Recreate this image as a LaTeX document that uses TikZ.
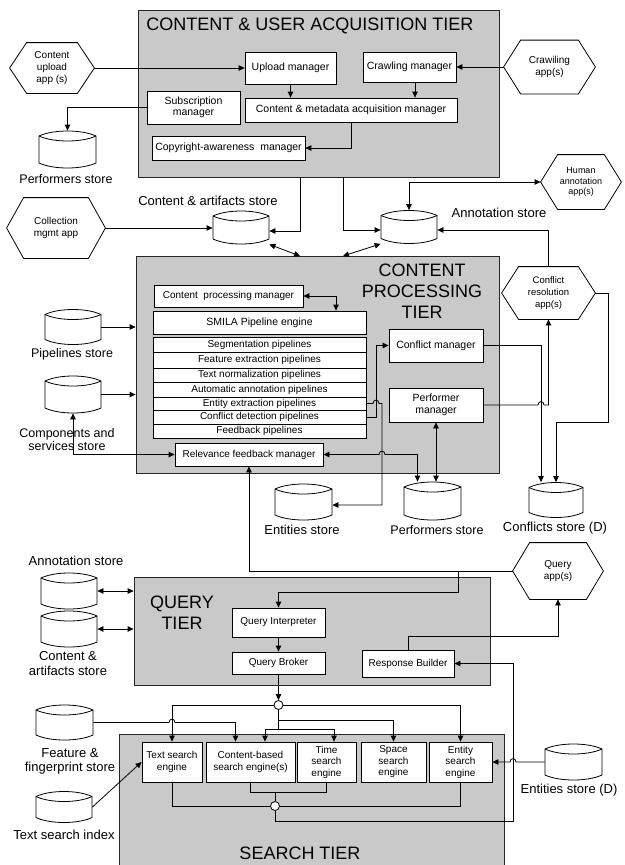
\documentclass[tikz,border=0pt]{standalone}
\usepackage{fontspec}
\setmainfont{Liberation Sans}
\usetikzlibrary{arrows.meta,calc}
\definecolor{tiergray}{HTML}{C9C9C9}
\newcommand\fsz[2]{\fontsize{#1}{#2}\selectfont}
% store cylinder: name, cx, cy, w, h
\newcommand\storecyl[5]{%
  \pgfmathsetmacro\sXl{#2-#4/2}%
  \pgfmathsetmacro\sXr{#2+#4/2}%
  \pgfmathsetmacro\sYt{#3-#5/2}%
  \pgfmathsetmacro\sYb{#3+#5/2}%
  \pgfmathsetmacro\sQa{#2-#4/4}%
  \pgfmathsetmacro\sQb{#2+#4/4}%
  \node[inner sep=0pt, minimum width=#4pt, minimum height=#5pt] (#1) at (#2,#3) {};
  \draw[cylst] (\sXl,\sYt+5) .. controls (\sQa,\sYt-1.67) and (\sQb,\sYt-1.67) .. (\sXr,\sYt+5)
     -- (\sXr,\sYb-5) .. controls (\sQb,\sYb+1.67) and (\sQa,\sYb+1.67) .. (\sXl,\sYb-5) -- cycle;
  \draw (\sXl,\sYt+5) .. controls (\sQa,\sYt+11.67) and (\sQb,\sYt+11.67) .. (\sXr,\sYt+5);
}
% hexagon: name, cx, cy, w, h, text, font
\newcommand\hexnode[7]{%
  \node[hexn, font=#7, minimum width=#4pt, minimum height=#5pt] (#1) at (#2,#3) {#6};
  \draw ([xshift=0pt]#1.west) -- ([xshift=17pt]#1.north west) -- ([xshift=-17pt]#1.north east)
     -- (#1.east) -- ([xshift=-17pt]#1.south east) -- ([xshift=17pt]#1.south west) -- cycle;
}
\begin{document}
\begin{tikzpicture}[x=1pt,y=-1pt, line width=0.8pt,
  >={Triangle[length=6pt,width=5.5pt]},
  tier/.style={draw=black!85, fill=tiergray, inner sep=0pt},
  box/.style={draw, fill=white, inner sep=1pt, align=center, font=\fsz{10.5}{11.5}},
  qbox/.style={box, font=\fsz{10}{12}},
  eng/.style={draw, fill=white, inner sep=0pt, align=center, font=\fsz{10}{11.5}, minimum height=40pt},
  pipe/.style={draw, fill=white, inner sep=0pt, minimum width=213pt, font=\fsz{10}{11}},
  lbl/.style={inner sep=0pt, align=center, font=\fsz{12.5}{14}},
  lblb/.style={inner sep=0pt, align=center, font=\fsz{13}{15}},
  ttl/.style={inner sep=0pt, align=center, font=\fsz{18}{21}},
  hexn/.style={inner sep=0pt, align=center},
  cylst/.style={draw, fill=white},
  junc/.style={circle, draw, fill=white, inner sep=0pt, minimum size=9pt}
]
\useasboundingbox (0,0) rectangle (624,865);

% ================= TIER 1 =================
\node[tier, minimum width=361pt, minimum height=167pt] (tier1) at (318.5,93.5) {};
\node[ttl, anchor=west] (t1ttl) at (146,26) {CONTENT \& USER ACQUISITION TIER};
\node[box, minimum width=91pt, minimum height=32pt] (um) at (290.5,68) {Upload manager};
\node[box, minimum width=93pt, minimum height=30pt] (crm) at (409.5,67) {Crawling manager};
\node[box, minimum width=93pt, minimum height=33pt] (sub) at (193.5,107.5) {Subscription\\manager};
\node[box, minimum width=212pt, minimum height=24pt] (cm) at (351,110) {Content \& metadata acquisition manager};
\node[box, minimum width=153pt, minimum height=24pt] (cr) at (228.5,148) {Copyright-awareness~ manager};

\hexnode{upapp}{52}{68}{84}{50}{Content\\upload\\app (s)}{\fsz{10}{12}}
\hexnode{crapp}{549.5}{67}{91}{53}{Crawiling\\app(s)}{\fsz{10}{12}}
\hexnode{human}{581}{182}{80}{54}{Human\\annotation\\app(s)}{\fsz{9}{10.5}}
\hexnode{collapp}{56}{228}{98}{60}{Collection\\mgmt app}{\fsz{10}{12}}
\hexnode{confapp}{548.5}{293}{93}{52}{Conflict\\resolution\\app(s)}{\fsz{9.5}{12}}
\hexnode{queryapp}{558}{571}{90}{56}{Query\\app(s)}{\fsz{10}{12}}

\storecyl{perfA}{67.5}{149.5}{57}{37}
\node[lbl] (perfAl) at (66,179) {Performers store};
\storecyl{cas1}{241}{227.5}{56}{33}
\node[lblb] (cas1l) at (208,201) {Content \& artifacts store};
\storecyl{ann1}{409}{227}{56}{33}
\node[lblb] (ann1l) at (499,213) {Annotation store};

% ================= TIER 2 =================
\node[tier, minimum width=363pt, minimum height=217pt] (tier2) at (317.5,364.5) {};
\node[ttl] (t2ttl) at (422,291) {CONTENT\\PROCESSING\\TIER};
\node[box, font=\fsz{10}{12}, minimum width=149pt, minimum height=22pt] (cpm) at (228.5,296) {Content~ processing manager};
\node[box, minimum width=213pt, minimum height=23pt] (smila) at (259.5,322.5) {SMILA Pipeline engine};
\node[pipe, minimum height=15pt] (p1) at (259.5,344.5) {Segmentation pipelines};
\node[pipe, minimum height=16pt] (p2) at (259.5,360) {Feature extraction pipelines};
\node[pipe, minimum height=14pt] (p3) at (259.5,375) {Text normalization pipelines};
\node[pipe, minimum height=15pt] (p4) at (259.5,389.5) {Automatic annotation pipelines};
\node[pipe, minimum height=13pt] (p5) at (259.5,403.5) {Entity extraction pipelines};
\node[pipe, minimum height=14pt] (p6) at (259.5,417) {Conflict detection pipelines};
\node[pipe, minimum height=14pt] (p7) at (259.5,431) {Feedback pipelines};
\node[box, minimum width=94pt, minimum height=33pt] (cfm) at (436,345.5) {Conflict manager};
\node[box, minimum width=94pt, minimum height=34pt] (pfm) at (436,405) {Performer\\manager};
\node[box, font=\fsz{10}{12}, minimum width=148pt, minimum height=23pt] (rfm) at (249,454.5) {Relevance feedback manager};

\storecyl{pipes}{73}{327}{56}{35}
\node[lbl] (pipesl) at (72,354) {Pipelines store};
\storecyl{comps}{73}{394.5}{56}{37}
\node[lbl, font=\fsz{12.5}{13}] (compsl) at (67,439.5) {Components and\\services store};
\storecyl{ents1}{303.5}{502}{57}{36}
\node[lblb] (ents1l) at (302,530) {Entities store};
\storecyl{perfB}{432.5}{501}{57}{38}
\node[lbl] (perfBl) at (437,530) {Performers store};
\storecyl{conf}{556}{500}{54}{35}
\node[lblb] (confl) at (555,528) {Conflicts store (D)};

% ================= TIER 3 =================
\node[tier, minimum width=356pt, minimum height=108pt] (tier3) at (312,631) {};
\node[ttl] (t3ttl) at (182,612.5) {QUERY\\TIER};
\node[qbox, minimum width=93pt, minimum height=29pt] (qi) at (278.5,622.5) {Query Interpreter};
\node[qbox, minimum width=93pt, minimum height=22pt] (qb) at (278.5,663) {Query Broker};
\node[qbox, minimum width=92pt, minimum height=27pt] (rb) at (408,663.5) {Response Builder};

\storecyl{ann2}{69}{591}{56}{36}
\node[lblb] (ann2l) at (76,561) {Annotation store};
\storecyl{cas2}{69}{629}{56}{36}
\node[lblb] (cas2l) at (68,664) {Content \&\\artifacts store};

% ================= TIER 4 =================
\node[tier, minimum width=385pt, minimum height=136pt] (tier4) at (311.5,802) {};
\node[ttl] (t4ttl) at (300,853) {SEARCH TIER};
\node[eng, minimum width=60pt] (tse) at (172,762) {Text search\\engine};
\node[eng, minimum width=89pt] (cbe) at (250.5,762) {Content-based\\search engine(s)};
\node[eng, minimum width=59pt] (tme) at (326.5,762) {Time\\search\\engine};
\node[eng, minimum width=65pt] (spe) at (393.5,762) {Space\\search\\engine};
\node[eng, minimum width=63pt] (ene) at (460.5,762) {Entity\\search\\engine};

\storecyl{feat}{64.5}{722.5}{57}{35}
\node[lblb, font=\fsz{13}{14}] (featl) at (70,761) {Feature \&\\fingerprint store};
\storecyl{tsi}{64}{807}{56}{31}
\node[lblb] (tsil) at (64,835) {Text search index};
\storecyl{ents2}{573.5}{762}{57}{36}
\node[lblb] (ents2l) at (569,790) {Entities store (D)};

% ================= CONNECTORS =================
\coordinate (t1a) at (300,177);
\coordinate (t1b) at (343,177);
\coordinate (t2a) at (300,256);
\coordinate (t2b) at (343,256);
\coordinate (qa) at (458,592);
\coordinate (j1) at (278.5,729);
\coordinate (j2) at (278.5,720);
\coordinate (j3) at (275,792);
\coordinate (j4) at (513,821);

% tier 1
\draw[->] (upapp.east) -- (um.west);
\draw[->] (crapp.west) -- (crm.east);
\draw[->] (um.south) -- (um.south |- cm.north);
\draw[->] ([xshift=5.5pt]crm.south) -- ([xshift=5.5pt]crm.south |- cm.north);
\draw[->] (cm.south) |- (cr.east);
\draw[->] (sub.west) -| (perfA.north);
\draw[->] (t1a) |- ([yshift=-3.5pt]cas1.east);
\draw[->] (collapp.east) -- (collapp.east -| cas1.west);
\draw[<->] (cas1.south east) -- (t2a);
\draw[->] (t1b) |- ([yshift=-3pt]ann1.west);
\draw[<->] (ann1.north) |- (human.west);
\draw[->] (confapp.north) |- ([yshift=-3pt]ann1.east);
\draw[<->] (ann1.south west) -- (t2b);

% tier 2
\draw[<->] (cpm.east) -| ([xshift=76.5pt]smila.north);
\draw[->] (pipes.east) -- (pipes.east -| tier2.west);
\draw[->] (comps.east) -- (comps.east -| tier2.west);
\draw[<->] (comps.south) |- (rfm.west);
\draw[->] (p6.east) -- (376,417) |- (cfm.west);
\draw[->] (p5.east) -- (373,403.5) .. controls (373,399) and (379,399) .. (379,403.5) -- (382,403.5) |- ([yshift=-3pt]ents1.east);
\draw[<->] (rfm.east) -- (379,454.5) .. controls (379,450) and (385,450) .. (385,454.5) -| ([xshift=-15pt]perfB.north);
\draw[<->] (pfm.south) -- (pfm.south |- perfB.north);
\draw[->] (cfm.east) -| ([xshift=-15pt]conf.north);
\draw[->] (pfm.east) -- (538,405) .. controls (538,400.5) and (544,400.5) .. (544,405) -| (confapp.south);
\draw[->] (confapp.east) -| (608,422) -| (conf.north);

% tier 3
\draw[->] (queryapp.west) -| (rfm.south);
\draw[->] (queryapp.west) -| (qa) -| (qi.north);
\draw[->] (qi.south) -- (qb.north);
\draw[->] (rb.north) -- ++(0,-13) -| (queryapp.south);
\draw[<->] (ann2.east) -- (ann2.east -| tier3.west);
\draw[<->] (cas2.east) -- (cas2.east -| tier3.west);

% tier 4
\node[junc] (c1) at (278.5,705) {};
\node[junc] (c2) at (275,806) {};
\draw[->] (qb.south) -- (c1.north);
\draw[->] (c1.west) -| (tse.north);
\draw[->] (c1.east) -| (ene.north);
\draw (c1.south) -- (j1);
\draw[->] (j1) -| ([xshift=14.5pt]cbe.north);
\draw[->] (j1) -| ([xshift=7.5pt]tme.north);
\draw[->] (j2) -| (spe.north);
\draw[->] (feat.east) -- (169,722.5) .. controls (169,718) and (175,718) .. (175,722.5) -| ([xshift=-15pt]cbe.north);
\draw[->] (tsi.east) -- (tse.west);
\draw[->] (ents2.west) -- (516,762) .. controls (516,757.5) and (510,757.5) .. (510,762) -- (ene.east);
\draw (tse.south) |- (c2.west);
\draw (ene.south) |- (c2.east);
\draw (cbe.south) |- (j3) -| (tme.south);
\draw (j3) -- (c2.north);
\draw[->] (c2.south) |- (j4) |- (rb.east);
\end{tikzpicture}
\end{document}
